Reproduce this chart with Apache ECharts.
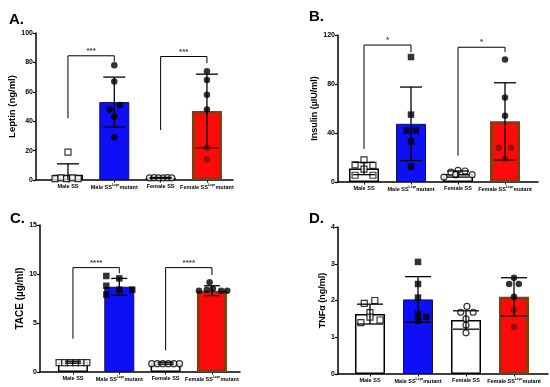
<!DOCTYPE html>
<html><head><meta charset="utf-8">
<script src="https://cdn.jsdelivr.net/npm/echarts@6/dist/echarts.min.js"></script>
<style>html,body{margin:0;padding:0;background:#fff}#c{width:550px;height:387px}</style>
</head><body><div id="c"></div>
<script>
// ---------- data ----------
const categories = ['Male SS', 'Male SS Lepr mutant', 'Female SS', 'Female SS Lepr mutant'];

// Panel A: Leptin (ng/ml)
const leptinMean = [3.5, 53, 1.5, 47];
const leptinSD = [7.5, 17, 0.3, 25];
const leptinMaleSS = [[-0.28, 1], [-0.15, 1.5], [-0.03, 1], [0.1, 1.5], [0.22, 1], [0, 19]];
const leptinMaleMut = [[0, 78], [0, 67], [0.12, 51], [-0.1, 48], [0, 43], [0, 29]];
const leptinFemaleSS = [[-0.24, 1.5], [-0.14, 1.6], [-0.04, 1.4], [0.06, 1.5], [0.15, 1.6], [0.24, 1.5]];
const leptinFemaleMut = [[0, 74], [0, 68], [0, 58], [0, 48], [0, 22], [0, 14]];
const leptinTicks = [0, 100, 20];
const leptinBrackets = [[0, 1, 42, 84.5, 80.5, '***'], [2, 3, 34, 84, 79.5, '***']];

// Panel B: Insulin (µIU/ml)
const insulinMean = [11, 47.5, 6.5, 49.5];
const insulinSD = [5, 30, 2.5, 31.5];
const insulinMaleSS = [[-0.19, 14], [0, 18], [0.19, 13.5], [-0.19, 5.5], [0, 10.5], [0.19, 5.5]];
const insulinMaleMut = [[0, 102], [0, 55], [-0.1, 42], [0.1, 42], [0, 33], [0, 12.5]];
const insulinFemaleSS = [[-0.3, 4], [-0.15, 8], [0, 9.5], [0.15, 9], [0.3, 6], [-0.05, 6]];
const insulinFemaleMut = [[0, 100], [0, 69], [0, 54], [-0.13, 28], [0.13, 28], [0, 19]];
const insulinTicks = [0, 120, 40];
const insulinBrackets = [[0, 1, 27, 111.8, 106, '*'], [2, 3, 21.5, 110, 106, '*']];

// Panel C: TACE (µg/ml)
const taceMean = [1.0, 8.7, 0.9, 8.3];
const taceSD = [0.1, 0.85, 0.1, 0.5];
const taceMaleSS = [[-0.3, 0.95], [-0.18, 0.95], [-0.06, 0.95], [0.06, 0.95], [0.18, 0.95], [0.3, 0.95]];
const taceMaleMut = [[-0.28, 9.8], [0, 9.55], [-0.28, 8.8], [0, 8.4], [0.28, 8.4], [-0.28, 7.9]];
const taceFemaleSS = [[-0.3, 0.85], [-0.18, 0.85], [-0.06, 0.85], [0.06, 0.85], [0.18, 0.85], [0.3, 0.85]];
const taceFemaleMut = [[-0.05, 9.15], [-0.28, 8.3], [-0.11, 8.4], [0.02, 8.5], [0.2, 8.3], [0.33, 8.3]];
const taceTicks = [0, 15, 5];
const taceBrackets = [[0, 1, 3.4, 10.65, 10.07, '****'], [2, 3, 2.2, 10.65, 9.9, '****']];

// Panel D: TNFα (ng/ml)
const tnfMean = [1.63, 2.03, 1.47, 2.1];
const tnfSD = [0.27, 0.62, 0.25, 0.52];
const tnfMaleSS = [[0.1, 2.0], [-0.12, 1.92], [0, 1.67], [0, 1.55], [0.21, 1.47], [-0.19, 1.4]];
const tnfMaleMut = [[0, 3.05], [0, 2.45], [0, 2.08], [0, 1.63], [0.17, 1.55], [0, 1.45]];
const tnfFemaleSS = [[0.02, 1.84], [-0.11, 1.68], [0.15, 1.68], [0, 1.5], [0, 1.33], [0, 1.12]];
const tnfFemaleMut = [[0, 2.62], [-0.1, 2.45], [0.1, 2.45], [0, 2.1], [0, 1.75], [0, 1.28]];
const tnfTicks = [0, 4, 1];
const tnfBrackets = [];

// ---------- layout / style ----------
const FONT = 'Liberation Sans';
const panels = [
  {title: 'A.', tx: 4, ty: 7, name: 'Leptin (ng/ml)', nameSize: 9.5, nameGap: 16,
   frame: {left: 36, top: 33, width: 197, height: 147}, bars: {left: 44.8, width: 185.3},
   mean: leptinMean, sd: leptinSD, pts: [leptinMaleSS, leptinMaleMut, leptinFemaleSS, leptinFemaleMut],
   ticks: leptinTicks, brackets: leptinBrackets, mutSym: 'circle', cap: 22},
  {title: 'B.', tx: 304, ty: 4, name: 'Insulin (\u00b5IU/ml)', nameSize: 9, nameGap: 18,
   frame: {left: 338, top: 35, width: 200, height: 147}, bars: {left: 340.5, width: 188},
   mean: insulinMean, sd: insulinSD, pts: [insulinMaleSS, insulinMaleMut, insulinFemaleSS, insulinFemaleMut],
   ticks: insulinTicks, brackets: insulinBrackets, mutSym: 'rect', cap: 22},
  {title: 'C.', tx: 5, ty: 206, name: 'TACE (\u00b5g/ml)', nameSize: 10, nameGap: 15,
   frame: {left: 40, top: 225, width: 200, height: 147}, bars: {left: 49.8, width: 185.3},
   mean: taceMean, sd: taceSD, pts: [taceMaleSS, taceMaleMut, taceFemaleSS, taceFemaleMut],
   ticks: taceTicks, brackets: taceBrackets, mutSym: 'rect', cap: 16},
  {title: 'D.', tx: 304, ty: 206, name: 'TNF\u03b1 (ng/ml)', nameSize: 9, nameGap: 11,
   frame: {left: 338, top: 227, width: 210, height: 147}, bars: {left: 346, width: 192},
   mean: tnfMean, sd: tnfSD, pts: [tnfMaleSS, tnfMaleMut, tnfFemaleSS, tnfFemaleMut],
   ticks: tnfTicks, brackets: tnfBrackets, mutSym: 'rect', cap: 26}
];

const barStyles = [
  {color: '#ffffff', borderColor: '#000', borderWidth: 1.5},
  {color: '#0f0ff5', borderColor: '#10105a', borderWidth: 1},
  {color: '#ffffff', borderColor: '#000', borderWidth: 1.5},
  {color: '#ff0a0a', borderColor: '#8a3a0c', borderWidth: 3}
];

const option = {animation: false, backgroundColor: '#fff', title: [], grid: [], xAxis: [], yAxis: [], series: []};

panels.forEach((p, i) => {
  const gF = 2 * i, gB = 2 * i + 1;
  const xF = 3 * i, xC = 3 * i + 1, xV = 3 * i + 2;
  const yF = 2 * i, yB = 2 * i + 1;
  option.title.push({text: p.title, left: p.tx, top: p.ty,
    textStyle: {fontFamily: FONT, fontSize: 15, fontWeight: 'bold', color: '#000'}});
  option.grid.push({left: p.frame.left, top: p.frame.top, width: p.frame.width, height: p.frame.height});
  option.grid.push({left: p.bars.left, top: p.frame.top, width: p.bars.width, height: p.frame.height});
  option.xAxis.push({type: 'value', gridIndex: gF, min: 0, max: 1,
    axisLine: {show: true, lineStyle: {color: '#000', width: 1.5}},
    axisTick: {show: false}, axisLabel: {show: false}, splitLine: {show: false}});
  option.xAxis.push({type: 'category', gridIndex: gB, data: categories,
    axisLine: {show: false}, axisTick: {show: true, alignWithLabel: true, length: 2.5, lineStyle: {color: '#000', width: 1}},
    axisLabel: {margin: 3, interval: 0, fontFamily: FONT, fontSize: 5.5, fontWeight: 'bold', color: '#000',
      formatter: v => v.replace(' Lepr ', '{s|Lepr}'),
      rich: {s: {fontSize: 3.5, fontFamily: FONT, fontWeight: 'bold', color: '#000', padding: [0, 0, 5, 0]}}},
    splitLine: {show: false}});
  option.xAxis.push({type: 'value', gridIndex: gB, min: -0.5, max: 3.5, show: false});
  option.yAxis.push({type: 'value', gridIndex: gF, min: p.ticks[0], max: p.ticks[1], interval: p.ticks[2],
    name: p.name, nameLocation: 'middle', nameGap: p.nameGap, nameRotate: 90,
    nameTextStyle: {fontFamily: FONT, fontSize: p.nameSize, fontWeight: 'bold', color: '#000'},
    axisLine: {show: true, lineStyle: {color: '#000', width: 1.5}},
    axisTick: {show: true, length: 3, lineStyle: {color: '#000', width: 1.2}},
    axisLabel: {margin: 3, fontFamily: FONT, fontSize: 7, fontWeight: 'bold', color: '#000'},
    splitLine: {show: false}});
  option.yAxis.push({type: 'value', gridIndex: gB, min: p.ticks[0], max: p.ticks[1], show: false});

  // bars
  option.series.push({type: 'bar', xAxisIndex: xC, yAxisIndex: yB, barWidth: 30, z: 2,
    data: p.mean.map((m, k) => ({value: m, itemStyle: barStyles[k]}))});

  // points
  const symbols = ['rect', p.mutSym, 'circle', 'circle'];
  p.pts.forEach((arr, k) => {
    const open = (k === 0 || k === 2);
    option.series.push({type: 'scatter', xAxisIndex: xV, yAxisIndex: yB, z: 3,
      symbol: symbols[k], symbolSize: open ? 6 : 6.5,
      data: arr.map(d => {
        const inside = k === 3 && d[1] < p.mean[k];
        return {value: [k + d[0], d[1]],
          itemStyle: open ? {color: '#fff', borderColor: '#000', borderWidth: 1.2}
                          : {color: inside ? '#7a1208' : '#000'}};
      })});
  });

  // error bars
  const cap = p.cap;
  option.series.push({type: 'custom', xAxisIndex: xC, yAxisIndex: yB, z: 4,
    data: p.mean.map((m, k) => [k, Math.max(0, m - p.sd[k]), m + p.sd[k]]),
    renderItem: (params, api) => {
      const lo = api.coord([api.value(0), api.value(1)]);
      const hi = api.coord([api.value(0), api.value(2)]);
      const st = {stroke: '#000', lineWidth: 1.3};
      const kids = [
        {type: 'line', shape: {x1: hi[0], y1: hi[1], x2: lo[0], y2: lo[1]}, style: st},
        {type: 'line', shape: {x1: hi[0] - cap / 2, y1: hi[1], x2: hi[0] + cap / 2, y2: hi[1]}, style: st}
      ];
      if (api.value(1) > 0) kids.push({type: 'line', shape: {x1: lo[0] - cap / 2, y1: lo[1], x2: lo[0] + cap / 2, y2: lo[1]}, style: st});
      return {type: 'group', children: kids};
    }});

  // significance brackets
  p.brackets.forEach(b => {
    option.series.push({type: 'line', xAxisIndex: xV, yAxisIndex: yB, z: 5, symbol: 'none', silent: true,
      lineStyle: {color: '#000', width: 1},
      data: [[b[0], b[2]], [b[0], b[3]], [b[1], b[3]], [b[1], b[4]]]});
    option.series.push({type: 'scatter', xAxisIndex: xV, yAxisIndex: yB, z: 5, symbolSize: 0, silent: true,
      data: [[(b[0] + b[1]) / 2, b[3]]],
      label: {show: true, position: 'top', distance: 1, formatter: b[5],
        fontFamily: FONT, fontSize: 8, fontWeight: 'bold', color: '#000'}});
  });
});

const chart = echarts.init(document.getElementById('c'), null, {renderer: 'canvas'});
chart.setOption(option);
</script></body></html>
